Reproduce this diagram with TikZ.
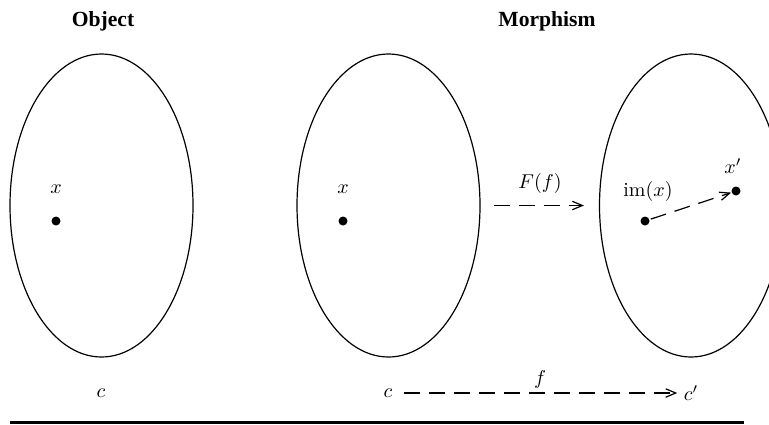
\documentclass[tikz,border=0pt]{standalone}
\usepackage{fontspec}
\newfontfamily\titlefont{Liberation Serif}
\usetikzlibrary{arrows.meta,shapes.geometric}

\begin{document}
\begin{tikzpicture}[
  x=0.5pt,y=-0.5pt,line width=0.6pt,
  region/.style={draw,ellipse,inner sep=0pt,minimum width=91.5pt,minimum height=151.5pt},
  pt/.style={circle,fill,inner sep=0pt,minimum size=4.5pt},
  lbl/.style={inner sep=1pt},
  title/.style={font=\titlefont\bfseries\fontsize{10.8}{13}\selectfont},
  map/.style={dash pattern=on 8pt off 4.5pt,-{Straight Barb[length=5pt,width=4.2pt]}}
]
\useasboundingbox (0,0) rectangle (769,424);
% titles
\node[title] (tobj) at (103,21) {Object};
\node[title] (tmor) at (547,21) {Morphism};
% the object
\node[region] (e1) at (101.5,205.5) {};
\node[pt] (xa) at (56,221) {};
\node[lbl] (xal) at (56,189) {$x$};
\node[lbl] (ca) at (101,393) {$c$};
% the morphism
\node[region] (e2) at (388.5,205.5) {};
\node[region] (e3) at (691,205.5) {};
\node[pt] (xb) at (343,221) {};
\node[lbl] (xbl) at (343,189) {$x$};
\node[pt] (im) at (645,221) {};
\node[lbl] (iml) at (648,191) {$\mathrm{im}(x)$};
\node[pt] (xp) at (736,191) {};
\node[lbl] (xpl) at (733,166) {$x'$};
\draw[map,shorten <=6.5pt,shorten >=7.5pt] (e2.east) -- (e3.west);
\node[lbl] (Ff) at (540,183) {$F(f)$};
\draw[map,shorten <=0.5pt,shorten >=0pt] (im) -- (xp);
% bottom row
\node[lbl] (cb) at (388,393) {$c$};
\node[lbl] (cp) at (691,393) {$c'$};
\draw[map,shorten <=4.5pt,shorten >=2pt] (cb) -- (cp);
\node[lbl] (fl) at (540,379) {$f$};
\draw[line width=1.6pt] (10,422.5) -- (744,422.5);
\end{tikzpicture}
\end{document}
